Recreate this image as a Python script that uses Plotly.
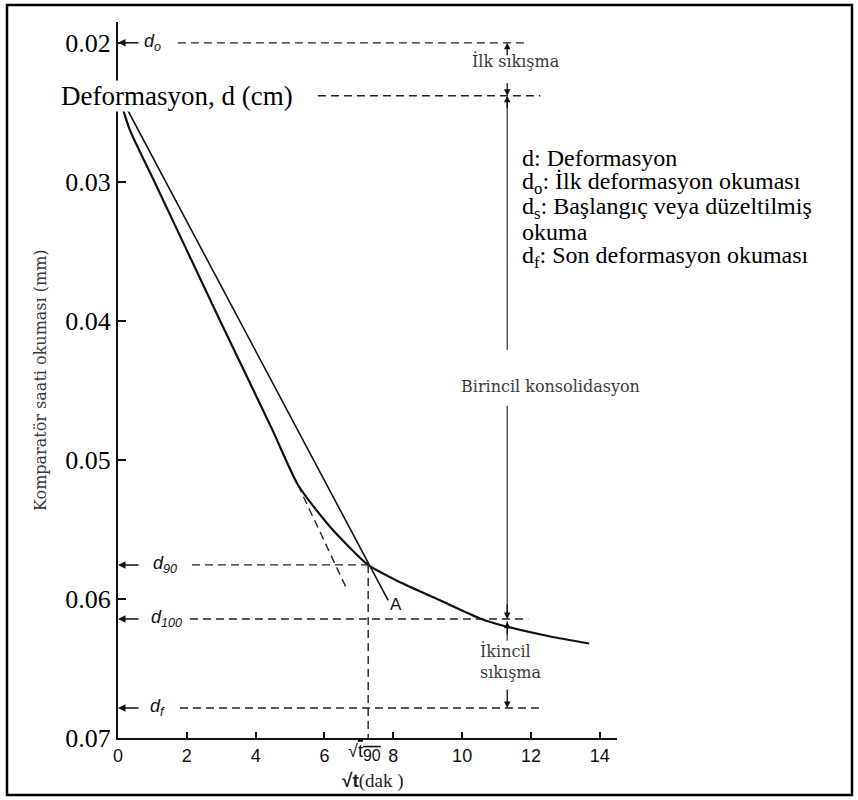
import plotly.graph_objects as go

# ---------------- data ----------------
curve_x = [0.06, 0.35, 1.08, 2.97, 4.48, 5.23, 6.16, 7.27, 8.20, 9.36, 10.52, 11.31, 12.56, 13.69]
curve_y = [0.0241, 0.0263, 0.0301, 0.0400, 0.0478, 0.0518, 0.0548, 0.05755, 0.0588, 0.0601,
           0.0614, 0.0620, 0.0627, 0.0632]

tangent_x = [0.20, 7.85]          # straight line ending at point A
tangent_y = [0.02446, 0.0601]

ext_x = [5.23, 6.66]              # dashed extension of initial linear part
ext_y = [0.0518, 0.05935]

d0 = 0.0200
ds = 0.02381
d90 = 0.05755
d100 = 0.06144
df = 0.06784
sqrt_t90 = 7.27
dim_x = 11.31

x_ticks = [0, 2, 4, 6, 8, 10, 12, 14]
y_ticks = [0.02, 0.03, 0.04, 0.05, 0.06, 0.07]
y_ticktext = ["0.02", "0.03", "0.04", "0.05", "0.06", "0.07"]

legend_lines = ["d: Deformasyon",
                "d<sub>o</sub>: İlk deformasyon okuması",
                "d<sub>s</sub>: Başlangıç veya düzeltilmiş",
                "okuma",
                "d<sub>f</sub>: Son deformasyon okuması"]
legend_y = [0.0283, 0.0301, 0.0319, 0.0336, 0.0354]

# ---------------- figure ----------------
W, H = 858, 800
L, R, T, B = 118, 241, 22, 62
PW, PH = W - L - R, H - T - B


def px_x(p):
    return (p - L) / PW


def px_y(p):
    return (H - B - p) / PH


SERIF = "Liberation Serif"
WSERIF = "DejaVu Serif"
SANS = "Liberation Sans"
GRAY = "#3a3a3a"

fig = go.Figure()

dash_style = dict(color="#222", width=1.4, dash="8px,5px")


def dline(xs, ys):
    fig.add_trace(go.Scatter(x=xs, y=ys, mode="lines", line=dash_style,
                             hoverinfo="skip", showlegend=False))


# main consolidation curve
fig.add_trace(go.Scatter(x=curve_x, y=curve_y, mode="lines",
                         line=dict(color="#111", width=2.2, shape="spline", smoothing=0.6),
                         showlegend=False, hoverinfo="skip"))
# Taylor straight line
fig.add_trace(go.Scatter(x=tangent_x, y=tangent_y, mode="lines",
                         line=dict(color="#111", width=1.6), showlegend=False, hoverinfo="skip"))
# dashed extension
dline(ext_x, ext_y)

# horizontal reference lines
dline([1.74, 11.92], [d0, d0])
dline([5.81, 12.27], [ds, ds])
dline([2.15, sqrt_t90], [d90, d90])
dline([2.09, 11.92], [d100, d100])
dline([1.80, 12.33], [df, df])
dline([sqrt_t90, sqrt_t90], [d90, 0.07])

# dimension line (solid thin)
dim_style = dict(color="#333", width=1.2)
for y0, y1 in [(0.02390, 0.04208), (0.04610, d100), (0.0616, 0.0630)]:
    fig.add_trace(go.Scatter(x=[dim_x, dim_x], y=[y0, y1], mode="lines", line=dim_style,
                             showlegend=False, hoverinfo="skip"))

ann = []


def arrow(x, y, ax, ay, width=1.5):
    ann.append(dict(x=x, y=y, xref="x", yref="y", ax=ax, ay=ay, text="", showarrow=True,
                    arrowhead=2, arrowsize=1.0, arrowwidth=width, arrowcolor="#111"))


# left axis arrows
for lvl in [d0, d90, d100, df]:
    arrow(0, lvl, 22, 0)

# dimension arrows
arrow(dim_x, d0, 0, 14, 1.3)
arrow(dim_x, ds, 0, -14, 1.3)
arrow(dim_x, ds, 0, 14, 1.3)
arrow(dim_x, d100, 0, -16, 1.3)
arrow(dim_x, d100 + 0.0002, 0, 14, 1.3)
arrow(dim_x, df, 0, -20, 1.3)

# level labels (italic sans)
lab_font = dict(family=SANS, size=18, color="#111")
ann.append(dict(x=0.99, y=d0, xref="x", yref="y", text="<i>d<sub>o</sub></i>", showarrow=False, font=lab_font))
ann.append(dict(x=1.37, y=d90, xref="x", yref="y", text="<i>d<sub>90</sub></i>", showarrow=False, font=lab_font))
ann.append(dict(x=1.40, y=d100, xref="x", yref="y", text="<i>d<sub>100</sub></i>", showarrow=False, font=lab_font))
ann.append(dict(x=1.15, y=df, xref="x", yref="y", text="<i>d<sub>f</sub></i>", showarrow=False, font=lab_font))

# "A"
ann.append(dict(x=8.08, y=0.0604, xref="x", yref="y", text="A", showarrow=False,
                font=dict(family=SANS, size=17, color="#111")))

# Deformasyon label with white background over the axis
ann.append(dict(x=px_x(60), y=ds, xref="paper", yref="y", xanchor="left", yanchor="middle",
                text="Deformasyon, d (cm)", showarrow=False, bgcolor="white", borderpad=0,
                font=dict(family=SERIF, size=27, color="#000")))

# small gray labels
small = dict(family=WSERIF, size=16, color=GRAY)
ann.append(dict(x=11.57, y=0.0213, xref="x", yref="y", text="İlk sıkışma", showarrow=False, font=small))
ann.append(dict(x=12.56, y=0.04475, xref="x", yref="y", text="Birincil konsolidasyon", showarrow=False, font=small))
ann.append(dict(x=10.47, y=0.0645, xref="x", yref="y", xanchor="left", align="left",
                text="İkincil<br>sıkışma", showarrow=False, font=small))

# legend text block
for txt, yy in zip(legend_lines, legend_y):
    ann.append(dict(x=px_x(520), y=yy, xref="paper", yref="y", xanchor="left", yanchor="middle",
                    text=txt, showarrow=False, font=dict(family=SERIF, size=24, color="#000")))

# sqrt(t90) tick label
ann.append(dict(x=sqrt_t90 - 0.12, y=0.07, xref="x", yref="y", yanchor="top", yshift=-1,
                text="√<span style='text-decoration:overline'>t<sub><span style='font-size:16px'>90</span></sub></span>",
                showarrow=False, font=dict(family=SANS, size=18, color="#111")))

# x axis title
ann.append(dict(x=7.4, y=px_y(781), xref="x", yref="paper", yanchor="middle", xanchor="center",
                text="<b><span style='font-family:Liberation Sans'>√t</span></b>(dak )",
                showarrow=False, font=dict(family=SERIF, size=19, color="#222")))

# y axis title
ann.append(dict(x=px_x(40), y=0.5, xref="paper", yref="paper", xanchor="center", yanchor="middle",
                textangle=-90, text="Komparatör saati okuması (mm)", showarrow=False,
                font=dict(family=WSERIF, size=16, color=GRAY)))

# outer frame
shapes = [dict(type="rect", xref="paper", yref="paper",
               x0=px_x(7), x1=px_x(852), y0=px_y(795), y1=px_y(5),
               line=dict(color="#000", width=2.5), fillcolor="rgba(0,0,0,0)", layer="below")]

fig.update_layout(
    width=W, height=H,
    margin=dict(l=L, r=R, t=T, b=B, pad=0),
    paper_bgcolor="white", plot_bgcolor="white",
    showlegend=False,
    annotations=ann, shapes=shapes,
    xaxis=dict(range=[0, 14.5], tickvals=x_ticks, ticks="inside", ticklen=6, tickwidth=1.5,
               tickcolor="#111", showline=True, linecolor="#111", linewidth=2,
               showgrid=False, zeroline=False,
               tickfont=dict(family=SANS, size=18, color="#111")),
    yaxis=dict(range=[0.07, 0.0185], tickvals=y_ticks, ticktext=y_ticktext, ticks="inside",
               ticklen=8, tickwidth=1.5, tickcolor="#111", showline=True, linecolor="#111",
               linewidth=2, showgrid=False, zeroline=False,
               tickfont=dict(family=SERIF, size=26, color="#000")),
)

fig.write_html("out.html")
